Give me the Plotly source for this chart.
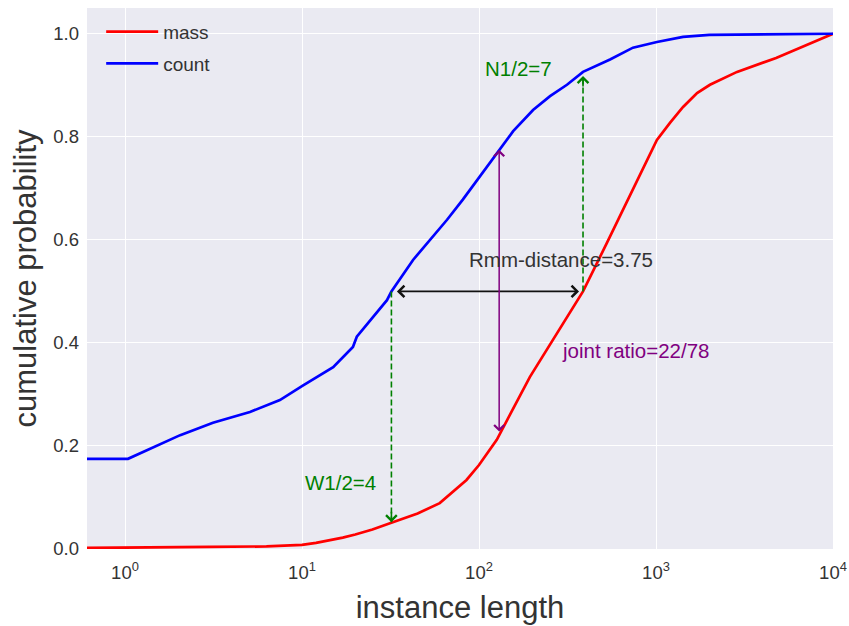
import math
import plotly.graph_objects as go

# Cumulative distributions over instance length
count_x = [0.61, 1.04, 2.05, 3.14, 5.08, 7.5, 10.1, 15, 19.4, 20.4, 30.2, 32, 42.4,
           66, 81, 101, 126, 144, 156, 202, 252, 314, 387, 550, 741, 1012, 1422, 2000, 10000]
count_y = [0.175, 0.175, 0.221, 0.245, 0.266, 0.289, 0.317, 0.353, 0.392, 0.412, 0.483,
           0.5, 0.561, 0.639, 0.678, 0.722, 0.767, 0.794, 0.811, 0.852, 0.879, 0.901, 0.926,
           0.950, 0.973, 0.984, 0.994, 0.998, 1.0]

mass_x = [0.61, 1, 3, 6.3, 10, 12, 14.4, 17, 20, 25, 31.4, 45, 60, 85, 100, 126, 194,
          290, 387, 528, 587, 741, 889, 1012, 1199, 1422, 1706, 2018, 2870, 4770, 10000]
mass_y = [0.002, 0.003, 0.004, 0.005, 0.008, 0.012, 0.017, 0.022, 0.028, 0.038, 0.05,
          0.069, 0.089, 0.134, 0.163, 0.212, 0.334, 0.432, 0.5, 0.594, 0.627, 0.697,
          0.753, 0.794, 0.827, 0.858, 0.885, 0.901, 0.926, 0.953, 1.0]

# Key points for the annotations
w_half_x = 32      # count curve reaches 0.5
n_half_x = 387     # mass curve reaches 0.5
w_low_y = 0.052    # mass value at w_half_x
n_top_y = 0.918    # count value at n_half_x
joint_x = 130
joint_lo, joint_hi = 0.225, 0.775

x_tick_vals = [1, 10, 100, 1000, 10000]
x_tick_text = ["10<sup>0</sup>", "10<sup>1</sup>", "10<sup>2</sup>", "10<sup>3</sup>", "10<sup>4</sup>"]
y_tick_vals = [0.0, 0.2, 0.4, 0.6, 0.8, 1.0]

FONT = "Liberation Sans, Arial, sans-serif"
TEXT = "#333333"
GREEN = "#008000"
PURPLE = "#800080"

fig = go.Figure()
fig.add_trace(go.Scatter(x=mass_x, y=mass_y, mode="lines", name="mass",
                         line=dict(color="#FF0000", width=2.7), legendgroup="a"))
fig.add_trace(go.Scatter(x=count_x, y=count_y, mode="lines", name="count",
                         line=dict(color="#0000FF", width=2.7), legendgroup="b"))

# dashed green guides
fig.add_trace(go.Scatter(x=[w_half_x, w_half_x], y=[0.5, w_low_y], mode="lines",
                         line=dict(color=GREEN, width=1.6, dash="6px,3px"),
                         showlegend=False, hoverinfo="skip"))
fig.add_trace(go.Scatter(x=[n_half_x, n_half_x], y=[0.5, n_top_y], mode="lines",
                         line=dict(color=GREEN, width=1.6, dash="6px,3px"),
                         showlegend=False, hoverinfo="skip"))

lg = math.log10
annotations = [
    # arrowheads on the dashed guides
    dict(x=lg(w_half_x), y=w_low_y, ax=0, ay=-12, xref="x", yref="y",
         showarrow=True, arrowhead=4, arrowsize=1.3, arrowwidth=1.6, arrowcolor=GREEN, text=""),
    dict(x=lg(n_half_x), y=n_top_y, ax=0, ay=12, xref="x", yref="y",
         showarrow=True, arrowhead=4, arrowsize=1.3, arrowwidth=1.6, arrowcolor=GREEN, text=""),
    # horizontal double arrow between the two medians
    dict(x=lg(n_half_x), y=0.5, ax=lg(w_half_x), ay=0.5, xref="x", yref="y",
         axref="x", ayref="y", showarrow=True, arrowhead=4, startarrowhead=4,
         arrowside="end+start", arrowsize=1.3, startarrowsize=1.3, arrowwidth=1.7,
         arrowcolor="#111111", standoff=4, startstandoff=4, text=""),
    # vertical double arrow for the joint ratio
    dict(x=lg(joint_x), y=joint_hi, ax=lg(joint_x), ay=joint_lo, xref="x", yref="y",
         axref="x", ayref="y", showarrow=True, arrowhead=4, startarrowhead=4,
         arrowside="end+start", arrowsize=1.3, startarrowsize=1.3, arrowwidth=1.5,
         arrowcolor=PURPLE, text=""),
    # labels
    dict(x=lg(85.5), y=0.561, text="Rmm-distance=3.75", showarrow=False, xanchor="left",
         yanchor="middle", font=dict(family=FONT, size=20.5, color=TEXT)),
    dict(x=lg(287), y=0.386, text="joint ratio=22/78", showarrow=False, xanchor="left",
         yanchor="middle", font=dict(family=FONT, size=20.5, color=PURPLE)),
    dict(x=lg(10.1), y=0.130, text="W1/2=4", showarrow=False, xanchor="left",
         yanchor="middle", font=dict(family=FONT, size=20.5, color=GREEN)),
    dict(x=lg(105), y=0.932, text="N1/2=7", showarrow=False, xanchor="left",
         yanchor="middle", font=dict(family=FONT, size=20.5, color=GREEN)),
]

fig.update_layout(
    width=849, height=626,
    margin=dict(l=87, r=16, t=8, b=77),
    paper_bgcolor="white",
    plot_bgcolor="#EAEAF2",
    font=dict(family=FONT, color=TEXT),
    annotations=annotations,
    showlegend=True,
    legend=dict(x=0.019, y=0.991, xanchor="left", yanchor="top", bgcolor="rgba(0,0,0,0)",
                font=dict(family=FONT, size=19, color=TEXT), tracegroupgap=4,
                itemwidth=52),
    xaxis=dict(type="log", range=[lg(0.61), 4.0], tickvals=x_tick_vals, ticktext=x_tick_text,
               showgrid=True, gridcolor="white", gridwidth=1.3, zeroline=False,
               showline=False, ticks="", ticklabelstandoff=10, automargin=False,
               tickfont=dict(family=FONT, size=18.5, color=TEXT),
               title=dict(text="instance length", font=dict(family=FONT, size=31, color=TEXT),
                          standoff=14)),
    yaxis=dict(range=[0, 1.05], tickvals=y_tick_vals, tickformat=".1f",
               showgrid=True, gridcolor="white", gridwidth=1.3, zeroline=False,
               showline=False, ticks="", ticklabelstandoff=7, automargin=False,
               tickfont=dict(family=FONT, size=18.5, color=TEXT),
               title=dict(text="cumulative probability", font=dict(family=FONT, size=31, color=TEXT),
                          standoff=7)),
)

fig.write_html("out.html")
